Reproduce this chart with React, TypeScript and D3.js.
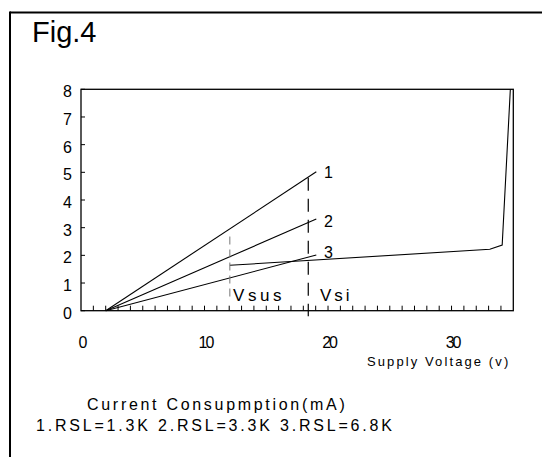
import React from 'react';
import * as d3 from 'd3';

// values (x: supply voltage V, y: current mA)
const series1: [number, number][] = [[2, 0], [19.05, 5.02]];
const series2: [number, number][] = [[2, 0], [19.05, 3.31]];
const series3: [number, number][] = [[2, 0], [19.05, 2.01]];
const sustainCurve: [number, number][] = [[12.05, 1.64], [33.1, 2.22], [34.1, 2.37], [34.76, 8]];
const seriesLabels = ['1', '2', '3'];
const yTicks = [0, 1, 2, 3, 4, 5, 6, 7, 8];
const xTickLabels = [0, 10, 20, 30];
const xMinorTicks = d3.range(1, 35);
const vsus = { x: 12.05, y0: 0.39, y1: 2.68 };
const vsi = { x: 18.4, y0: -0.2, y1: 4.8 };

const App = () => {
  const width = 542;
  const height = 457;
  const plot = { left: 81, top: 89.3, right: 513.3, bottom: 310.7 };
  const font = '"Liberation Sans", Arial, sans-serif';

  const x = d3.scaleLinear().domain([0, 35]).range([plot.left, plot.right]);
  const y = d3.scaleLinear().domain([0, 8]).range([plot.bottom, plot.top]);
  const line = d3.line<[number, number]>().x(d => x(d[0])).y(d => y(d[1]));

  const allSeries = [series1, series2, series3];
  const labelY = [178.3, 226.7, 258.3];

  return (
    <svg width={width} height={height} style={{ position: 'absolute', left: 0, top: 0, background: '#fff' }}>
      {/* outer frame, only left and top edges fall inside the page */}
      <line x1={10} x2={width} y1={12.5} y2={12.5} stroke="#000" strokeWidth={2} />
      <line x1={10} x2={10} y1={11.5} y2={height} stroke="#000" strokeWidth={2} />
      <text x={32} y={41.5} fontFamily={font} fontSize={29}>Fig.4</text>

      <rect x={plot.left} y={plot.top} width={plot.right - plot.left} height={plot.bottom - plot.top}
        fill="none" stroke="#000" strokeWidth={1.3} />

      {yTicks.map(t => (
        <g key={'y' + t}>
          <line x1={plot.left} x2={plot.left + 4} y1={y(t)} y2={y(t)} stroke="#000" strokeWidth={1} />
          <text x={72} y={y(t) + 8} textAnchor="end" fontFamily={font} fontSize={16}>{t}</text>
        </g>
      ))}

      {xMinorTicks.map(t => (
        <line key={'x' + t} x1={x(t)} x2={x(t)} y1={plot.bottom} y2={plot.bottom - 5} stroke="#000" strokeWidth={1} />
      ))}
      {xTickLabels.map(t => (
        <text key={'xl' + t} x={x(t) + 1} y={348} textAnchor="middle" fontFamily={font} fontSize={16} letterSpacing={-2}>{t}</text>
      ))}
      <text x={367} y={366} fontFamily={font} fontSize={13} letterSpacing={2.1}>Supply Voltage (v)</text>

      {allSeries.map((s, i) => (
        <path key={'s' + i} d={line(s) || ''} fill="none" stroke="#000" strokeWidth={1.1} />
      ))}
      <path d={line(sustainCurve) || ''} fill="none" stroke="#000" strokeWidth={1.1} />

      {seriesLabels.map((l, i) => (
        <text key={'l' + i} x={324} y={labelY[i]} fontFamily={font} fontSize={16}>{l}</text>
      ))}

      <line x1={x(vsus.x)} x2={x(vsus.x)} y1={y(vsus.y1)} y2={y(vsus.y0)} stroke="#777" strokeWidth={1} strokeDasharray="8,5" />
      <line x1={x(vsi.x)} x2={x(vsi.x)} y1={y(vsi.y1)} y2={y(vsi.y0)} stroke="#000" strokeWidth={1.2} strokeDasharray="13,8" />

      <text x={233} y={301} fontFamily={font} fontSize={17} letterSpacing={3.6}>Vsus</text>
      <text x={320} y={301} fontFamily={font} fontSize={17} letterSpacing={3}>Vsi</text>

      <text x={87} y={409.5} fontFamily={font} fontSize={16} letterSpacing={2.7}>Current Consupmption(mA)</text>
      <text x={36} y={430.5} fontFamily={font} fontSize={16} letterSpacing={2.8}>1.RSL=1.3K 2.RSL=3.3K 3.RSL=6.8K</text>
    </svg>
  );
};

export default App;
